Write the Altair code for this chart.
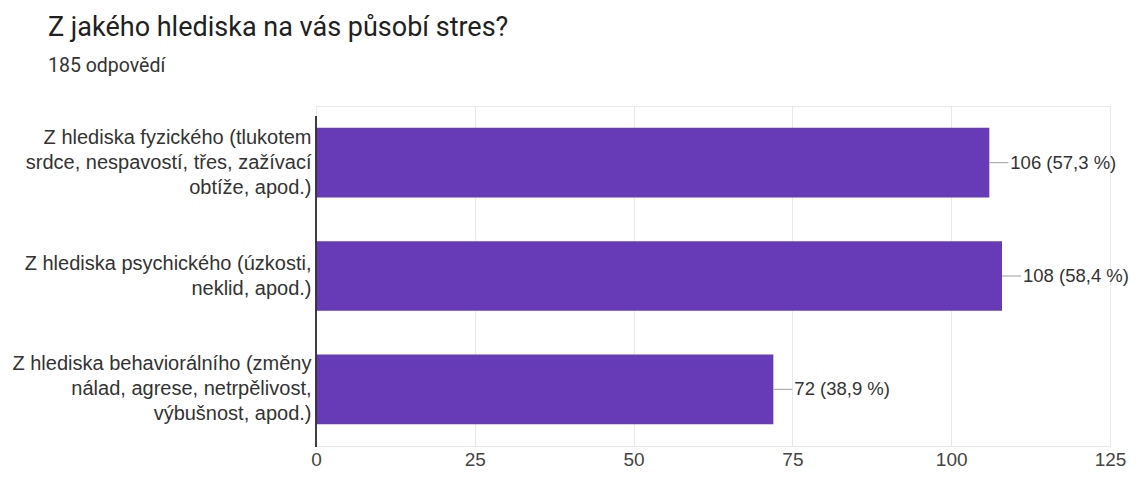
import altair as alt
import pandas as pd

categories = [
    "Z hlediska fyzického (tlukotem\nsrdce, nespavostí, třes, zažívací\nobtíže, apod.)",
    "Z hlediska psychického (úzkosti,\nneklid, apod.)",
    "Z hlediska behaviorálního (změny\nnálad, agrese, netrpělivost,\nvýbušnost, apod.)",
]
counts = [106, 108, 72]
percents = ["57,3 %", "58,4 %", "38,9 %"]
x_ticks = [0, 25, 50, 75, 100, 125]

df = pd.DataFrame({
    "cat": categories,
    "count": counts,
    "label": [f"{c} ({p})" for c, p in zip(counts, percents)],
})

W, H = 794, 340
LABEL_FONT = "Liberation Sans"
LINE_H = 25

y_enc = alt.Y(
    "cat:N", sort=categories, title=None,
    scale=alt.Scale(paddingInner=0.386, paddingOuter=0.193),
    axis=alt.Axis(
        labelExpr="split(datum.label, '\\n')", labelLineHeight=LINE_H,
        labelFont=LABEL_FONT, labelFontSize=20, labelColor="#333333",
        labelPadding=5, labelLimit=400, ticks=False, domain=False, grid=False,
        labelOffset=alt.condition(
            "length(split(datum.value, '\\n')) == 2",
            alt.value(-LINE_H / 2), alt.value(-LINE_H),
        ),
    ),
)
x_enc = alt.X(
    "count:Q", title=None,
    scale=alt.Scale(domain=[0, 125], nice=False),
    axis=alt.Axis(
        values=x_ticks, labelFont=LABEL_FONT, labelFontSize=19,
        labelColor="#444444", labelPadding=4, ticks=False, domain=False,
        grid=True, gridColor="#e8e8e8", labelFlush=False,
    ),
)

bars = alt.Chart(df).mark_bar(color="#673AB7").encode(x=x_enc, y=y_enc)

axis_line = alt.Chart(df).mark_rule(color="#333333", strokeWidth=1.2).encode(
    x=alt.value(0), y=alt.value(10), y2=alt.value(H + 1)
)

leaders = alt.Chart(df).mark_rule(color="#9e9e9e", strokeWidth=1, x2Offset=19).encode(
    x="count:Q", x2="count:Q", y=alt.Y("cat:N", sort=categories)
)

texts = alt.Chart(df).mark_text(
    align="left", baseline="middle", dx=21, font=LABEL_FONT,
    fontSize=18.5, color="#333333",
).encode(x="count:Q", y=alt.Y("cat:N", sort=categories), text="label:N")

chart = alt.layer(bars, axis_line, leaders, texts).properties(
    width=W, height=H,
    autosize=alt.AutoSizeParams(type="none"),
    padding={"left": 308, "top": 98, "right": 20, "bottom": 24},
    title=alt.TitleParams(
        text="Z jakého hlediska na vás působí stres?",
        subtitle="185 odpovědí",
        anchor="start", frame="group", dx=-268, offset=30,
        font="Roboto", fontSize=27, fontWeight="normal", color="#212121",
        subtitleFont="Roboto", subtitleFontSize=19.5, subtitleColor="#333333",
        subtitlePadding=15,
    ),
).configure_view(stroke="#e8e8e8")

chart.save("out.html", embed_options={"renderer": "svg", "actions": False})
